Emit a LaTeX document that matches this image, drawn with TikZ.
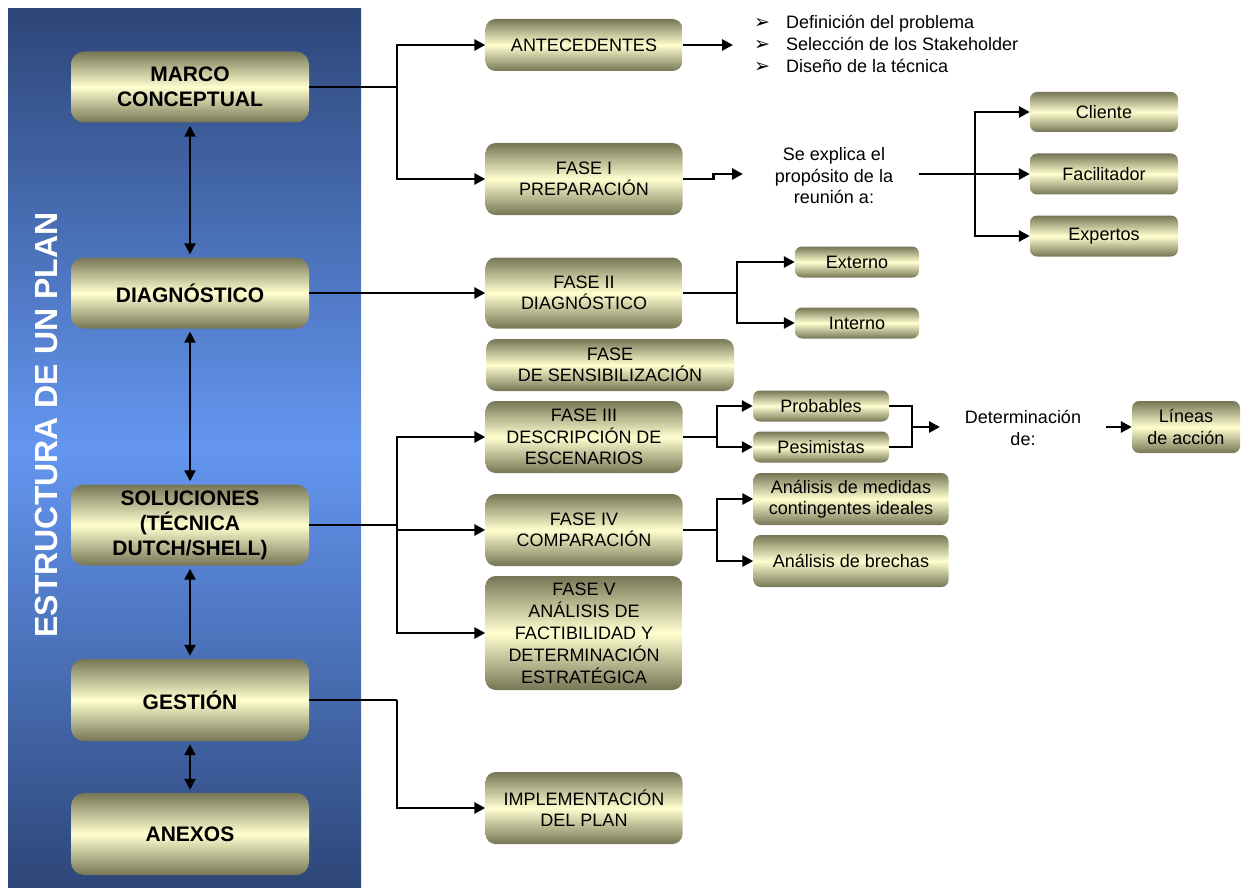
\documentclass[tikz,border=0pt]{standalone}
\usepackage{fontspec}
\setmainfont{Liberation Sans}
\newfontfamily\symfont{DejaVu Sans}
\usetikzlibrary{arrows.meta}

\definecolor{boxdark}{RGB}{118,118,86}
\definecolor{boxlight}{RGB}{255,255,208}
\definecolor{paneldark}{RGB}{45,70,120}
\definecolor{panellight}{RGB}{100,150,240}

\tikzset{
  shadebox/.style={rounded corners=10pt, top color=boxdark, bottom color=boxdark,
    middle color=boxlight, align=center, inner sep=1pt},
  mainbox/.style={shadebox, rounded corners=13pt, minimum width=238pt,
    font=\bfseries\fontsize{21}{25}\selectfont},
  phasebox/.style={shadebox, minimum width=197pt, minimum height=72pt,
    font=\fontsize{18}{21.5}\selectfont},
  smallbox/.style={shadebox, rounded corners=7pt, font=\fontsize{18}{21.5}\selectfont},
  plaintext/.style={align=center, inner sep=0pt, font=\fontsize{18}{21.5}\selectfont},
  conn/.style={line width=2.8pt},
  link/.style={line width=2.2pt, <->, shorten <=3pt, shorten >=3pt},
}
\newcommand{\bulletarrow}{{\symfont\fontsize{19}{22}\selectfont ➢}}

\begin{document}
\begin{tikzpicture}[x=1pt,y=-1pt,>={Triangle[length=11pt,width=11pt]}]
\useasboundingbox (0,0) rectangle (1243,888);

% panel
\shade[top color=paneldark, bottom color=paneldark, middle color=panellight]
  (8,9) rectangle (361,888);
\node[rotate=90, text=white, font=\bfseries\fontsize{32}{32}\selectfont] (title)
  at (46,425) {ESTRUCTURA DE UN PLAN};

% main blocks
\node[mainbox, minimum height=71pt] (marco) at (190,87) {MARCO\\CONCEPTUAL};
\node[mainbox, minimum height=71pt] (diag) at (190,293) {DIAGNÓSTICO};
\node[mainbox, minimum height=81pt] (soluc) at (190,525) {SOLUCIONES\\(TÉCNICA\\DUTCH/SHELL)};
\node[mainbox, minimum height=82pt] (gest) at (190,700) {GESTIÓN};
\node[mainbox, minimum height=82pt] (anex) at (190,834) {ANEXOS};

\draw[link] (marco) -- (diag);
\draw[link] (diag) -- (soluc);
\draw[link] (soluc) -- (gest);
\draw[link] (gest) -- (anex);

% phases
\node[phasebox, minimum height=52pt] (antec) at (584,45) {ANTECEDENTES};
\node[phasebox] (fase1) at (584,179) {FASE I\\PREPARACIÓN};
\node[phasebox, minimum height=71pt] (fase2) at (584,293) {FASE II\\DIAGNÓSTICO};
\node[phasebox, minimum width=248pt, minimum height=52pt] (sensib) at (610,365)
  {FASE\\DE SENSIBILIZACIÓN};
\node[phasebox] (fase3) at (584,437) {FASE III\\DESCRIPCIÓN DE\\ESCENARIOS};
\node[phasebox] (fase4) at (584,530) {FASE IV\\COMPARACIÓN};
\node[phasebox, minimum height=114pt, font=\fontsize{18}{22}\selectfont] (fase5) at (584,633)
  {FASE V\\ANÁLISIS DE\\FACTIBILIDAD Y\\DETERMINACIÓN\\ESTRATÉGICA};
\node[phasebox] (implem) at (584,808) {IMPLEMENTACIÓN\\DEL PLAN};

% details
\node[anchor=west, inner sep=0pt, font=\fontsize{18}{22}\selectfont] (lista) at (754,46)
  {\begin{tabular}{@{}l@{\hspace{16pt}}l@{}}
   \bulletarrow & Definición del problema\\
   \bulletarrow & Selección de los Stakeholder\\
   \bulletarrow & Diseño de la técnica
   \end{tabular}};
\node[plaintext] (prop) at (834,176) {Se explica el\\propósito de la\\reunión a:};
\node[smallbox, minimum width=148pt, minimum height=40pt] (cliente) at (1104,112) {Cliente};
\node[smallbox, minimum width=148pt, minimum height=41pt] (facil) at (1104,174) {Facilitador};
\node[smallbox, minimum width=148pt, minimum height=41pt] (expert) at (1104,236) {Expertos};
\node[smallbox, minimum width=124pt, minimum height=31pt] (externo) at (857,262) {Externo};
\node[smallbox, minimum width=124pt, minimum height=31pt] (interno) at (857,323) {Interno};
\node[smallbox, minimum width=136pt, minimum height=31pt] (probab) at (821,406) {Probables};
\node[smallbox, minimum width=136pt, minimum height=31pt] (pesim) at (821,447) {Pesimistas};
\node[plaintext] (determ) at (1023,428) {Determinación\\de:};
\node[smallbox, minimum width=108pt, minimum height=52pt] (lineas) at (1186,427) {Líneas\\de acción};
\node[smallbox, minimum width=195pt, minimum height=52pt] (medidas) at (851,499)
  {Análisis de medidas\\contingentes ideales};
\node[smallbox, minimum width=195pt, minimum height=52pt] (brechas) at (851,561) {Análisis de brechas};

% junctions
\coordinate (j1) at (397,87);
\coordinate (j2) at (397,525);
\coordinate (j3) at (397,700);
\coordinate (a1) at (733,45);
\coordinate (s1) at (743,174);
\coordinate (p1) at (919,174);
\coordinate (j4) at (975,174);
\coordinate (j5) at (737,293);
\coordinate (j6) at (717,437);
\coordinate (j7) at (717,530);
\coordinate (j8) at (912,427);
\coordinate (d1) at (940,427);
\coordinate (d2) at (1106,427);

% connectors
\draw[conn,->] (marco.east) -- (j1) |- (antec.west);
\draw[conn,->] (j1) |- (fase1.west);
\draw[conn,->] (antec.east) -- (a1);
\draw[conn,->] (fase1.east) -- ++(31,0) -- ++(0,-5) -- (s1);
\draw[conn] (p1) -- (j4);
\draw[conn,->] (j4) |- (cliente.west);
\draw[conn,->] (j4) -- (facil.west);
\draw[conn,->] (j4) |- (expert.west);
\draw[conn,->] (diag.east) -- (fase2.west);
\draw[conn] (fase2.east) -- (j5);
\draw[conn,->] (j5) |- (externo.west);
\draw[conn,->] (j5) |- (interno.west);
\draw[conn] (soluc.east) -- (j2);
\draw[conn,->] (j2) |- (fase3.west);
\draw[conn,->] (j2) |- (fase4.west);
\draw[conn,->] (j2) |- (fase5.west);
\draw[conn] (fase3.east) -- (j6);
\draw[conn,->] (j6) |- (probab.west);
\draw[conn,->] (j6) |- (pesim.west);
\draw[conn] (probab.east) -| (j8);
\draw[conn] (pesim.east) -| (j8);
\draw[conn,->] (j8) -- (d1);
\draw[conn,->] (d2) -- (lineas.west);
\draw[conn] (fase4.east) -- (j7);
\draw[conn,->] (j7) |- (medidas.west);
\draw[conn,->] (j7) |- (brechas.west);
\draw[conn] (gest.east) -- (j3);
\draw[conn,->] (j3) |- (implem.west);
\end{tikzpicture}
\end{document}
